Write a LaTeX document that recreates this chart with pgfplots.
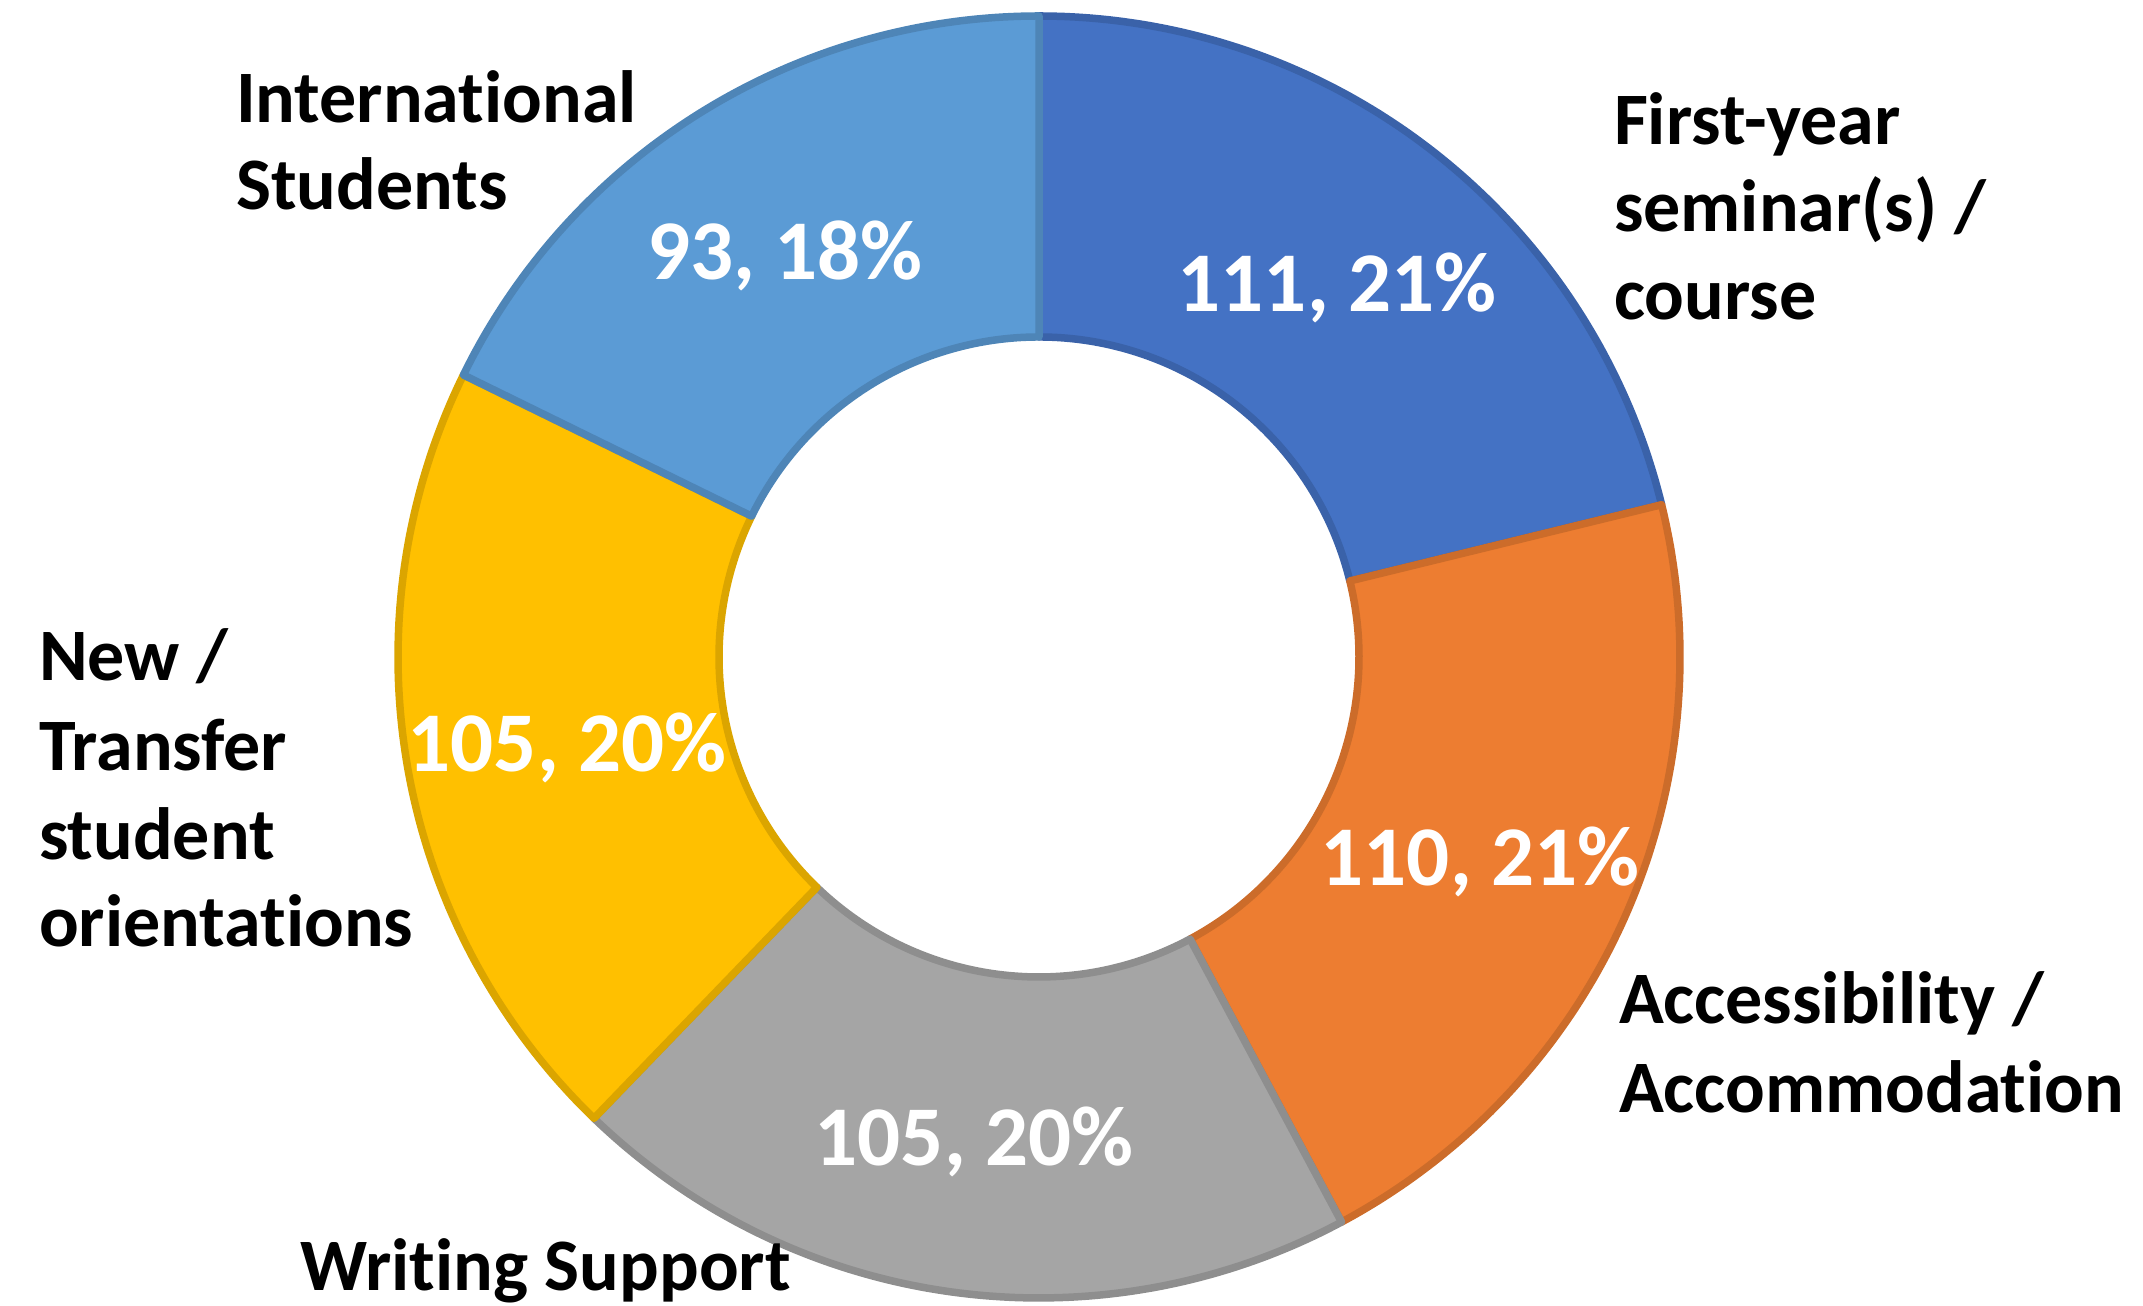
\documentclass[border=0pt]{standalone}
\usepackage{pgfplots}
\pgfplotsset{compat=1.18}
\usepackage{pgfplotstable}
\usepackage{fontspec}
\setmainfont{Carlito}[Ligatures=NoCommon]

\definecolor{cA}{HTML}{4472C4}
\definecolor{cB}{HTML}{ED7D31}
\definecolor{cC}{HTML}{A5A5A5}
\definecolor{cD}{HTML}{FFC000}
\definecolor{cE}{HTML}{5B9BD5}

\pgfplotstableread{
label value
FirstYear 111
Access 110
Writing 105
NewTransfer 105
Intl 93
}\donutdata

\pgfplotstablegetelem{0}{value}\of\donutdata \let\vA\pgfplotsretval
\pgfplotstablegetelem{1}{value}\of\donutdata \let\vB\pgfplotsretval
\pgfplotstablegetelem{2}{value}\of\donutdata \let\vC\pgfplotsretval
\pgfplotstablegetelem{3}{value}\of\donutdata \let\vD\pgfplotsretval
\pgfplotstablegetelem{4}{value}\of\donutdata \let\vE\pgfplotsretval
\pgfmathsetmacro\tot{\vA+\vB+\vC+\vD+\vE}
\pgfmathsetmacro\aA{90}
\pgfmathsetmacro\aB{90-360*((\vA)/\tot)}
\pgfmathsetmacro\aC{90-360*((\vA+\vB)/\tot)}
\pgfmathsetmacro\aD{90-360*((\vA+\vB+\vC)/\tot)}
\pgfmathsetmacro\aE{90-360*((\vA+\vB+\vC+\vD)/\tot)}
\pgfmathsetmacro\aF{-270}

% centre and radii in picture pixels
\def\cx{1039}
\def\cy{649}
\def\Ro{641}
\def\Ri{320}

% annular sector from angle #1 to #2
\newcommand\sector[3]{%
  \addplot[fill=#3, draw=#3!86!black, line width=1.5pt, line join=round,
    domain=0:3, samples=301, variable=\t]
  ({\cx + (\t<=1 ? \Ro : (\t<=2 ? \Ro-(\Ro-\Ri)*(\t-1) : \Ri))
      *cos(\t<=1 ? #1+(#2-#1)*\t : (\t<=2 ? #2 : #2-(#2-#1)*(\t-2)))},
   {\cy + (\t<=1 ? \Ro : (\t<=2 ? \Ro-(\Ro-\Ri)*(\t-1) : \Ri))
      *sin(\t<=1 ? #1+(#2-#1)*\t : (\t<=2 ? #2 : #2-(#2-#1)*(\t-2)))}) -- cycle;
}

\begin{document}
\begin{tikzpicture}
\begin{axis}[
  x=0.2pt, y=0.2pt,
  xmin=0, xmax=2143, ymin=0, ymax=1306,
  hide axis, clip=false,
]
\sector{\aA}{\aB}{cA}
\sector{\aB}{\aC}{cB}
\sector{\aC}{\aD}{cC}
\sector{\aD}{\aE}{cD}
\sector{\aE}{\aF}{cE}

% data labels
\begin{scope}[every node/.style={font=\fontsize{17}{20}\selectfont\bfseries, text=white, anchor=base, inner sep=0pt}]
\node at (axis cs:1337,994) {111, 21\%};
\node at (axis cs:1480,420) {110, 21\%};
\node at (axis cs:974,140) {105, 20\%};
\node at (axis cs:567,534) {105, 20\%};
\node at (axis cs:785,1026) {93, 18\%};
\end{scope}

% category labels
\begin{scope}[every node/.style={font=\fontsize{14.8}{17.6}\selectfont\bfseries, text=black, anchor=base west, inner sep=0pt}]
\node at (axis cs:235,1183) {International};
\node at (axis cs:235,1096) {Students};
\node at (axis cs:1613,1161) {First-year};
\node at (axis cs:1613,1074) {seminar(s) /};
\node at (axis cs:1613,986) {course};
\node at (axis cs:1618,282) {Accessibility /};
\node at (axis cs:1618,193) {Accommodation};
\node at (axis cs:299,15) {Writing Support};
\node at (axis cs:38,625) {New /};
\node at (axis cs:38,535) {Transfer};
\node at (axis cs:38,446) {student};
\node at (axis cs:38,359) {orientations};
\end{scope}
\end{axis}
\pgfresetboundingbox
\path (current axis.south west) rectangle (current axis.north east);
\end{tikzpicture}
\end{document}
